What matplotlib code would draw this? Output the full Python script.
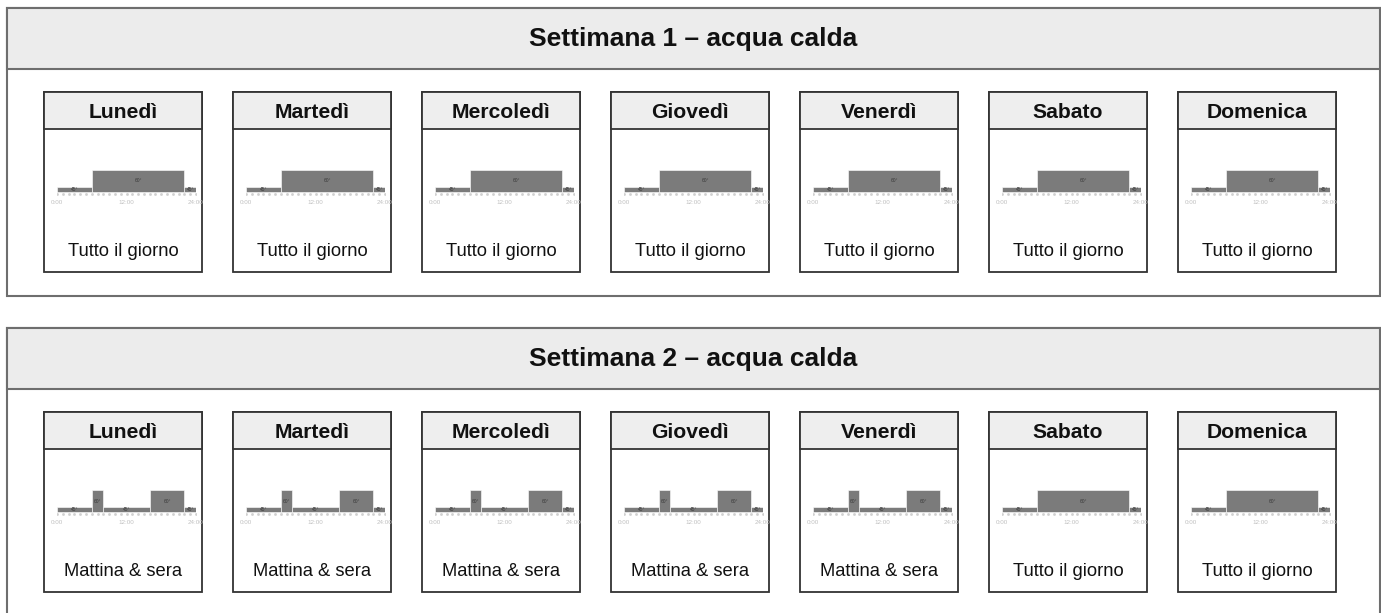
import matplotlib
matplotlib.use("Agg")
import matplotlib.pyplot as plt
from matplotlib.patches import Rectangle

plt.rcParams['font.family'] = ['Liberation Sans', 'DejaVu Sans']

W, H = 1381, 613

# data
weeks = ["Settimana 1 – acqua calda", "Settimana 2 – acqua calda"]
days = ["Lunedì", "Martedì", "Mercoledì", "Giovedì", "Venerdì", "Sabato", "Domenica"]
week1_profile = ["Tutto il giorno"] * 7
week2_profile = ["Mattina & sera"] * 5 + ["Tutto il giorno"] * 2

# schedules: start hour, end hour, relative level, temperature label
tutto_start = [0, 6, 22]
tutto_end = [6, 22, 24]
tutto_level = [1, 4, 1]
tutto_temp = ["45°", "60°", "45°"]

mattina_start = [0, 6, 8, 16, 22]
mattina_end = [6, 8, 16, 22, 24]
mattina_level = [1, 4, 1, 4, 1]
mattina_temp = ["45°", "60°", "45°", "60°", "45°"]

schedules = {
    "Tutto il giorno": (tutto_start, tutto_end, tutto_level, tutto_temp),
    "Mattina & sera": (mattina_start, mattina_end, mattina_level, mattina_temp),
}
tick_hours = [0, 12, 24]
tick_labels = ["0:00", "12:00", "24:00"]

fig = plt.figure(figsize=(W / 100, H / 100), dpi=100)
bg = fig.add_axes([0, 0, 1, 1])
bg.set_xlim(0, W)
bg.set_ylim(H, 0)
bg.axis('off')


def frac(x, y, w, h):
    return [x / W, 1 - (y + h) / H, w / W, h / H]


panel_tops = [8, 328]
card_left0, card_step, card_w = 44, 189, 158

for wi, (title, profile) in enumerate(zip(weeks, [week1_profile, week2_profile])):
    top = panel_tops[wi]
    # outer panel
    bg.add_patch(Rectangle((7, top), 1373, 288, facecolor='white',
                           edgecolor='#6e6e6e', lw=1.5, zorder=1))
    bg.add_patch(Rectangle((7, top), 1373, 61, facecolor='#ececec',
                           edgecolor='#6e6e6e', lw=1.5, zorder=2))
    bg.text(693, top + 31, title, ha='center', va='center', fontsize=19,
            fontweight='bold', color='#111111', zorder=3)

    ctop = top + 84
    for di, day in enumerate(days):
        x0 = card_left0 + di * card_step
        bg.add_patch(Rectangle((x0, ctop), card_w, 180, facecolor='white',
                               edgecolor='#333333', lw=1.3, zorder=3))
        bg.add_patch(Rectangle((x0, ctop), card_w, 37, facecolor='#eeeeee',
                               edgecolor='#333333', lw=1.3, zorder=4))
        bg.text(x0 + card_w / 2, ctop + 21, day, ha='center', va='center',
                fontsize=15.2, fontweight='bold', color='#111111', zorder=5)
        bg.text(x0 + card_w / 2, ctop + 159, profile[di], ha='center',
                va='center', fontsize=13.2, color='#111111', zorder=5)

        # mini schedule chart
        starts, ends, levels, temps = schedules[profile[di]]
        unit = 5.5
        ymin, ymax = -2.6, 4.8
        base_y = ctop + 100
        ax = fig.add_axes(frac(x0 + 13, base_y - ymax * unit, 139,
                               (ymax - ymin) * unit))
        ax.set_xlim(0, 24)
        ax.set_ylim(ymin, ymax)
        ax.axis('off')
        widths = [e - s for s, e in zip(starts, ends)]
        ax.bar(starts, levels, width=widths, align='edge', color='#7b7b7b',
               edgecolor='white', linewidth=0.4)
        for s, w, lv, t in zip(starts, widths, levels, temps):
            ax.text(s + w / 2, lv / 2, t, ha='center', va='center',
                    fontsize=3.5, color='#3a3a3a')
        hours = list(range(0, 25))
        ax.plot(hours, [-0.45] * len(hours), ls='none', marker='s',
                markersize=0.9, color='#d0d0d0')
        for h_, lab in zip(tick_hours, tick_labels):
            ax.text(h_, -2.0, lab, ha='center', va='center', fontsize=4.5,
                    color='#c0c0c0', clip_on=False)

fig.savefig("out.png", dpi=100)
